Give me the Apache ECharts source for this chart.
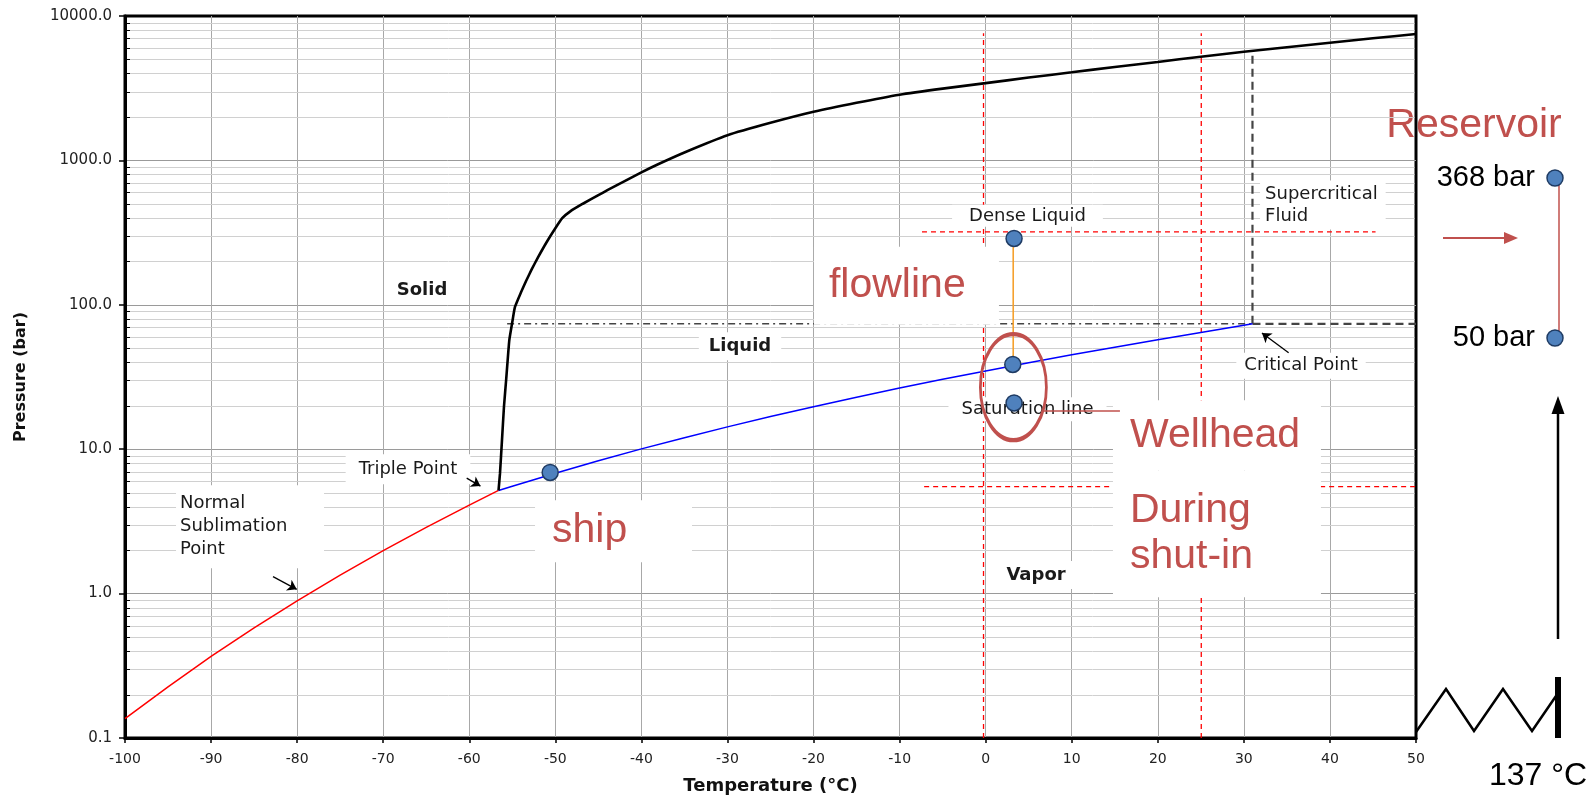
<!DOCTYPE html>
<html>
<head>
<meta charset="utf-8">
<script src="https://cdn.jsdelivr.net/npm/echarts@6/dist/echarts.min.js"></script>
<style>
html,body{margin:0;padding:0;background:#fff;}
#c{width:1589px;height:796px;}
</style>
</head>
<body>
<div id="c"></div>
<script>
// ---------- axis ticks ----------
const tempTicks = [-100,-90,-80,-70,-60,-50,-40,-30,-20,-10,0,10,20,30,40,50];
const presTicks = [0.1,1,10,100,1000,10000];
const presMinor = [0.2,0.3,0.4,0.5,0.6,0.7,0.8,0.9,2,3,4,5,6,7,8,9,20,30,40,50,60,70,80,90,
                   200,300,400,500,600,700,800,900,2000,3000,4000,5000,6000,7000,8000,9000];

// ---------- phase boundaries (°C, bar) ----------
const subT = [-100,-95,-90,-85,-80,-75,-70,-65,-60,-56.6];
const subP = [0.136,0.226,0.367,0.579,0.891,1.343,1.984,2.878,4.102,5.18];

const satT = [-56.6,-55,-50,-45,-40,-35,-30,-25,-20,-15,-10,-5,0,5,10,15,20,25,30,31];
const satP = [5.18,5.54,6.82,8.32,10.05,12.02,14.28,16.83,19.70,22.91,26.49,30.46,34.85,39.69,45.02,50.86,57.29,64.34,72.14,73.8];

const meltT = [-56.6,-56.43,-56.2,-55.97,-55.7,-55.35,-55.0,-54.69,-54.0,-53.4,-52.75,-52.0,-51.0,-50.0,-49.2,-48.3,-46.8,-45,-43.9,-42,-40,-38,-35,-30,-25,-20,-15,-10,-5,0,5,10,15,20,25,30,35,40,45,50];
const meltP = [5.18,6.8,11.5,19.6,31,56.8,76,96.6,121.6,146.2,175.8,213.8,272.3,338.8,398,442,501,575,624,716,826,944,1135,1493,1820,2170,2506,2851,3141,3428,3746,4074,4436,4808,5224,5649,6081,6531,7015,7499];

// critical-pressure guide lines
const critLineT = [-55.6, 31];
const critLineP = [73.8, 73.8];
const critDashT = [31, 50];
const critDashP = [73.8, 73.8];
const critVertT = [31, 31];
const critVertP = [73.8, 5800];

// red dashed guides
const guideVT = [-0.25, 25.05];
const guideVP = [0.1, 7600];
const guideHP = [320, 5.5];
const guideHFrom = [-7.4, -7.15];
const guideHTo = [45.3, 50.9];

// operating points
const ptT = [-50.6, 3.3, 3.15, 3.3];
const ptP = [6.9, 288, 38.6, 20.9];
const flowT = [3.2, 3.2];
const flowP = [288, 38.6];
const ringT = [3.22];
const ringP = [26.9];

// arrows (from -> to)
const arrowFromT = [-60.3, -82.8, 35.2];
const arrowFromP = [6.3, 1.31, 46.5];
const arrowToT = [-58.7, -80.05, 32.1];
const arrowToP = [5.55, 1.07, 63.8];
const pointerT = [6.6, 15.6];
const pointerP = [18.4, 18.4];

// annotation labels
const annoText = ['Solid','Liquid','Vapor','Triple Point','Normal\nSublimation\nPoint','Dense Liquid','Supercritical\nFluid','Critical Point','Saturation line'];
const annoT = [-65.49,-28.54,5.85,-67.12,-94.07,4.86,31.88,36.64,4.86];
const annoP = [126,51.6,1.343,7.27,2.909,413,492,37.8,18.9];

const calloutText = ['flowline','ship','Wellhead','During\nshut-in'];
const calloutT = [-19.95,-52.36,14.79,14.79];
const calloutP = [135.4,2.707,12.5,2.601];

// ---------- styles ----------
const annoStyle = [
  {fontWeight:'bold', padding:[5,10]},
  {fontWeight:'bold', padding:[5,10]},
  {fontWeight:'bold', padding:[5,10]},
  {padding:[6,13]},
  {align:'left', lineHeight:23, padding:[4,4,10,4], width:140},
  {padding:[2,17]},
  {align:'left', lineHeight:22, padding:[5,8,0,5]},
  {padding:[4,8]},
  {padding:[3,13]}
];
const calloutStyle = [
  {padding:[13,0,16,15], width:170, lineHeight:49},
  {padding:[7,0,7,17], width:140, lineHeight:48},
  {padding:[11,0,11,17], width:191, lineHeight:48},
  {padding:[20,0,15,17], width:191, lineHeight:46}
];

const pairs = (xs, ys) => xs.map((x,i)=>[x, ys[i]]);
function seg(xs, ys, color, width, type, z, extra){
  return Object.assign({
    type:'line', data:pairs(xs, ys), symbol:'none', silent:true, animation:false,
    lineStyle:{color:color, width:width, type:type, opacity:1}, z:z
  }, extra || {});
}

const chart = echarts.init(document.getElementById('c'), null, {renderer:'canvas', width:1589, height:796});

const series = [];
// minor horizontal grid lines + minor ticks
series.push({
  type:'custom', z:1, silent:true, animation:false,
  data: presMinor.map(p=>[tempTicks[0], p]),
  renderItem: function(params, api){
    const a = api.coord([tempTicks[0], api.value(1)]);
    const b = api.coord([tempTicks[tempTicks.length-1], api.value(1)]);
    const y = Math.round(a[1]) + 0.5;
    return {type:'group', children:[
      {type:'line', shape:{x1:a[0]+1.5, y1:y, x2:b[0]-1.5, y2:y}, style:{stroke:'#d0d0d0', lineWidth:1}},
      {type:'line', shape:{x1:a[0], y1:y, x2:a[0]+5, y2:y}, style:{stroke:'#000', lineWidth:1}}
    ]};
  }
});
// red dashed guides
guideVT.forEach(t=>{
  series.push(seg([t,t], guideVP, '#ff0000', 1.3, [5,4], 2));
});
guideHP.forEach((p,i)=>{
  series.push(seg([guideHFrom[i], guideHTo[i]], [p,p], '#ff0000', 1.3, [5,4], 2, {clip:false}));
});
// critical pressure lines
series.push(seg(critLineT, critLineP, '#444', 1.5, [7,4,2,4], 2));
series.push(seg(critDashT, critDashP, '#444', 2.2, [8,5], 2));
series.push(seg(critVertT, critVertP, '#444', 2.2, [8,5], 2));

// annotation labels with white boxes
const commonLabel = {show:true, position:'inside', color:'#1a1a1a', fontFamily:'DejaVu Sans', fontSize:18,
  backgroundColor:'#fff', align:'center', verticalAlign:'middle', textBorderWidth:0, opacity:1};
series.push({
  type:'scatter', z:3, silent:true, animation:false, symbolSize:1,
  itemStyle:{color:'rgba(0,0,0,0)', opacity:1},
  data: annoText.map((t,i)=>({value:[annoT[i], annoP[i]],
    label:Object.assign({}, commonLabel, {formatter:t}, annoStyle[i])}))
});
const calloutLabel = {show:true, position:'inside', color:'#c0504d', fontFamily:'Liberation Sans', fontSize:41,
  backgroundColor:'#fff', align:'left', verticalAlign:'middle', textBorderWidth:0, opacity:1};
series.push({
  type:'scatter', z:3, silent:true, animation:false, symbolSize:1,
  itemStyle:{color:'rgba(0,0,0,0)', opacity:1},
  data: calloutText.map((t,i)=>({value:[calloutT[i], calloutP[i]],
    label:Object.assign({}, calloutLabel, {formatter:t}, calloutStyle[i])}))
});

// phase curves
series.push(seg(subT, subP, '#ff0000', 1.5, 'solid', 4));
series.push(seg(satT, satP, '#0000ff', 1.5, 'solid', 4));
series.push(seg(meltT, meltP, '#000000', 2.6, 'solid', 4, {smooth:0.15}));

// flowline, ring, arrows
series.push(seg(flowT, flowP, '#f5a12e', 1.6, 'solid', 5));
series.push({
  type:'scatter', z:5, silent:true, animation:false, symbol:'circle', symbolSize:[66,106],
  data: pairs(ringT, ringP),
  itemStyle:{color:'rgba(0,0,0,0)', borderColor:'#c0504d', borderWidth:3.5, opacity:1}
});
series.push({
  type:'lines', coordinateSystem:'cartesian2d', z:5, silent:true, animation:false,
  symbol:['none','arrow'], symbolSize:9,
  lineStyle:{color:'#000', width:1.3, opacity:1},
  data: arrowFromT.map((t,i)=>({coords:[[arrowFromT[i], arrowFromP[i]],[arrowToT[i], arrowToP[i]]]}))
});
series.push(seg(pointerT, pointerP, '#c0504d', 1.5, 'solid', 5));

// operating points
series.push({
  type:'scatter', z:6, silent:true, animation:false, symbol:'circle', symbolSize:16,
  data: pairs(ptT, ptP),
  itemStyle:{color:'#4f81bd', borderColor:'#1f3b63', borderWidth:1.5, opacity:1}
});

const txt = (x, y, text, size, color, align) => ({
  type:'text', x:x, y:y, silent:true,
  style:{text:text, fontSize:size, fontFamily:'Liberation Sans', fill:color,
    align:align, verticalAlign:'middle', textAlign:align, textVerticalAlign:'middle'}
});

const option = {
  animation:false,
  backgroundColor:'#ffffff',
  grid:{left:125, top:16, width:1291, height:722, show:true, borderColor:'#000', borderWidth:3,
    backgroundColor:'rgba(0,0,0,0)', containLabel:false, outerBoundsMode:'none'},
  xAxis:{
    type:'value', min:tempTicks[0], max:tempTicks[tempTicks.length-1], interval:10,
    axisLine:{show:true, onZero:false, lineStyle:{color:'#000', width:3}},
    axisTick:{show:true, length:5, lineStyle:{color:'#000', width:1.5}},
    axisLabel:{fontFamily:'DejaVu Sans', fontSize:14, color:'#222', margin:14},
    splitLine:{show:true, showMinLine:false, showMaxLine:false, lineStyle:{color:'#a8a8a8', width:1}},
    name:'Temperature (°C)', nameLocation:'middle', nameGap:39,
    nameTextStyle:{fontFamily:'DejaVu Sans', fontWeight:'bold', fontSize:18, color:'#111'}
  },
  yAxis:{
    type:'log', logBase:10, min:presTicks[0], max:presTicks[presTicks.length-1],
    axisLine:{show:true, onZero:false, lineStyle:{color:'#000', width:3}},
    axisTick:{show:true, length:6, lineStyle:{color:'#000', width:1.5}},
    axisLabel:{fontFamily:'DejaVu Sans', fontSize:15, color:'#222', margin:13,
      formatter:function(v){ return Number(v).toFixed(1); }},
    splitLine:{show:true, showMinLine:false, showMaxLine:false, lineStyle:{color:'#9a9a9a', width:1}},
    name:'Pressure (bar)', nameLocation:'middle', nameGap:96,
    nameTextStyle:{fontFamily:'DejaVu Sans', fontWeight:'bold', fontSize:16, color:'#111'}
  },
  series: series,
  graphic:[
    txt(1474, 126, 'Reservoir', 41, '#c0504d', 'center'),
    txt(1535, 178, '368 bar', 29, '#000', 'right'),
    txt(1535, 338, '50 bar', 29, '#000', 'right'),
    {type:'line', silent:true, shape:{x1:1559, y1:184, x2:1559, y2:338}, style:{stroke:'#c0504d', lineWidth:1.5}},
    {type:'circle', silent:true, shape:{cx:1555, cy:178, r:8}, style:{fill:'#4f81bd', stroke:'#1f3b63', lineWidth:1.5}},
    {type:'circle', silent:true, shape:{cx:1555, cy:338, r:8}, style:{fill:'#4f81bd', stroke:'#1f3b63', lineWidth:1.5}},
    {type:'line', silent:true, shape:{x1:1443, y1:238, x2:1507, y2:238}, style:{stroke:'#c0504d', lineWidth:2}},
    {type:'polygon', silent:true, shape:{points:[[1518,238],[1504,232],[1504,244]]}, style:{fill:'#c0504d'}},
    {type:'line', silent:true, shape:{x1:1558, y1:639, x2:1558, y2:412}, style:{stroke:'#000', lineWidth:2.5}},
    {type:'polygon', silent:true, shape:{points:[[1558,396],[1551.5,414],[1564.5,414]]}, style:{fill:'#000'}},
    {type:'polyline', silent:true, shape:{points:[[1416,732],[1446,689],[1474,731],[1503,689],[1532,731],[1556,696]]},
      style:{stroke:'#000', lineWidth:2.5, fill:null}},
    {type:'rect', silent:true, shape:{x:1555, y:677, width:6, height:61}, style:{fill:'#000'}},
    txt(1489, 776, '137 °C', 32, '#000', 'left')
  ]
};
chart.setOption(option);
</script>
</body>
</html>
